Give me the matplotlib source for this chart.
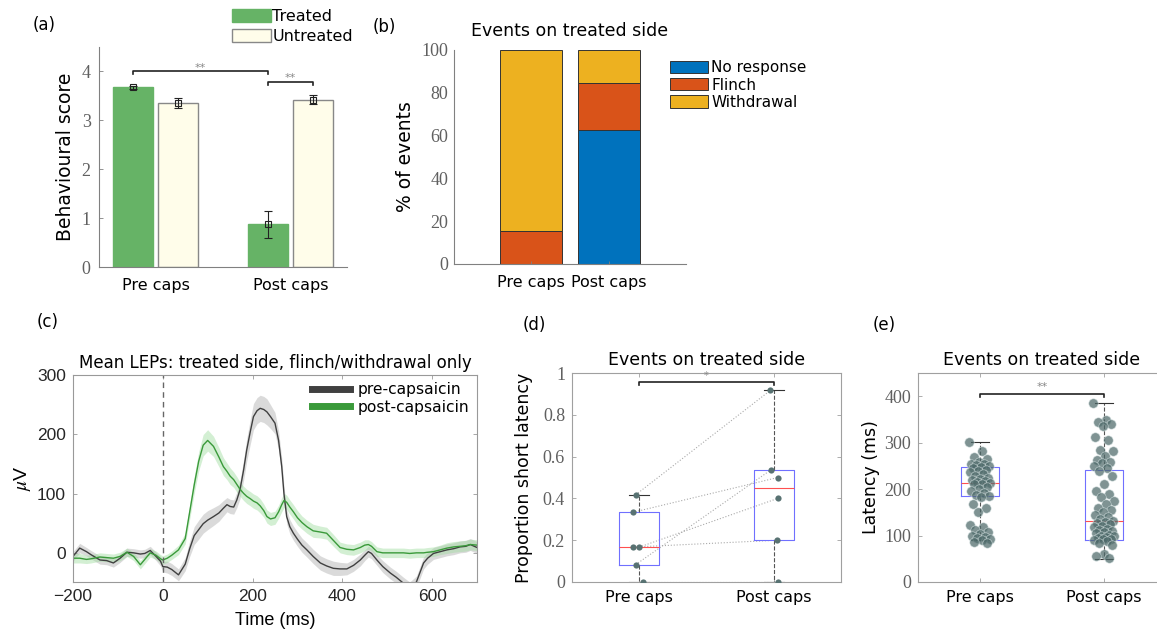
"""
Behavioural scores, response types and LEPs before/after capsaicin.
"""

import numpy as np
import matplotlib.pyplot as plt

plt.rcParams['font.family'] = ['DejaVu Sans']
plt.rcParams['mathtext.fontset'] = 'stix'

W, H = 1157, 639
SERIF = 'Liberation Serif'

# ---- (a) behavioural score ----
groups = ['Pre caps', 'Post caps']
treated_mean = [3.68, 0.87]
treated_err = [0.03, 0.27]
untreated_mean = [3.36, 3.42]
untreated_err = [0.10, 0.09]

# ---- (b) response types, % of events ----
resp_labels = ['No response', 'Flinch', 'Withdrawal']
no_response = [0.0, 62.8]
flinch = [15.4, 21.6]
withdrawal = [84.6, 15.6]

# ---- (c) mean LEPs ----
t_ms = [-200, -185, -170, -160, -140, -125, -110, -95, -80, -65,
        -50, -40, -28, -15, -5, 0, 10, 20, 35, 50,
        60, 70, 80, 90, 100, 113, 125, 135, 143, 150,
        158, 165, 172, 180, 187, 195, 202, 210, 217, 225,
        232, 240, 250, 258, 265, 270, 276, 283, 291, 300,
        310, 321, 335, 351, 365, 380, 395, 410, 425, 440,
        450, 458, 465, 477, 490, 507, 520, 536, 550, 565,
        581, 590, 603, 618, 633, 648, 662, 675, 685, 700]
pre_lep = [-5, 9, 3, -2, -11, -12, -16, -8, 2, 1,
           -1, 0, 5, -5, -13, -22, -23, -27, -36, -18,
           8, 30, 40, 50, 56, 62, 68, 76, 82, 79,
           78, 90, 107, 140, 174, 205, 230, 240, 244, 242,
           238, 230, 219, 190, 146, 100, 62, 45, 34, 24,
           14, 6, -5, -16, -21, -25, -26, -26, -20, -11,
           -3, 3, 0, -11, -22, -33, -40, -50, -58, -48,
           -16, -8, 0, 3, 6, 8, 11, 12, 15, 10]
pre_sem = [8, 8, 7, 7, 7, 7, 7, 7, 7, 7,
           7, 7, 7, 7, 8, 9, 10, 10, 10, 11,
           13, 15, 16, 16, 16, 15, 14, 13, 12, 12,
           12, 13, 15, 17, 19, 21, 22, 22, 22, 22,
           22, 20, 18, 16, 14, 13, 12, 12, 12, 12,
           12, 12, 12, 12, 12, 12, 11, 10, 10, 10,
           9, 9, 9, 9, 10, 10, 10, 10, 10, 10,
           10, 10, 10, 10, 10, 10, 10, 10, 10, 10]
post_lep = [-8, -8, -10, -9, -6, -7, -8, -5, 2, -5,
            -19, -10, 1, -3, -9, -11, -8, -3, 6, 25,
            70, 115, 155, 182, 190, 180, 162, 146, 138, 130,
            124, 116, 108, 101, 96, 92, 88, 85, 80, 72,
            62, 58, 60, 70, 82, 89, 86, 78, 70, 60,
            52, 45, 38, 36, 34, 22, 10, 7, 6, 10,
            14, 15, 12, 3, 1, 1, 1, 1, 0, 1,
            1, 2, 3, 6, 9, 11, 12, 13, 15, 14]
post_sem = [8, 8, 7, 7, 7, 7, 7, 7, 7, 7,
            7, 7, 7, 7, 7, 7, 7, 7, 8, 9,
            12, 14, 16, 18, 18, 17, 16, 15, 14, 14,
            13, 13, 12, 12, 12, 12, 12, 12, 12, 11,
            11, 11, 11, 11, 12, 12, 12, 12, 12, 12,
            11, 11, 11, 10, 10, 10, 9, 9, 9, 9,
            9, 8, 8, 8, 8, 8, 8, 8, 8, 8,
            8, 8, 8, 8, 9, 9, 9, 9, 9, 9]

# ---- (d) proportion short latency (paired subjects) ----
prop_pre = [0.417, 0.333, 0.167, 0.167, 0.083, 0.0]
prop_post = [0.917, 0.5, 0.4, 0.2, 0.537, 0.0]

# ---- (e) latency of single events ----
lat_pre = [302, 282, 270, 265, 258, 255, 254, 252, 250, 248,
           245, 242, 240, 236, 232, 228, 225, 222, 220, 218,
           215, 213, 212, 210, 205, 200, 196, 192, 188, 185,
           184, 168, 160, 150, 122, 118, 112, 108, 104, 100,
           97, 95, 92, 90, 86, 83]
lat_post = [386, 348, 344, 340, 335, 312, 306, 285, 283, 272,
            262, 258, 256, 250, 245, 240, 228, 210, 196, 190,
            182, 175, 168, 160, 155, 150, 145, 140, 136, 132,
            130, 128, 125, 120, 118, 115, 112, 110, 108, 105,
            102, 100, 98, 96, 95, 93, 92, 90, 88, 85,
            80, 60, 55, 52]
# box stats as drawn (q1, median, q3, whisker low, whisker high)
lat_box_pre = [185, 213, 248, 91, 302]
lat_box_post = [91, 131, 242, 50, 386]


def axes_px(fig, left, top, right, bottom):
    return fig.add_axes([left / W, 1 - bottom / H, (right - left) / W, (bottom - top) / H])


def style_matlab(ax, color='#999999', box=True):
    for side in ['left', 'bottom', 'top', 'right']:
        ax.spines[side].set_color(color)
        ax.spines[side].set_linewidth(0.8)
    if not box:
        ax.spines['top'].set_visible(False)
        ax.spines['right'].set_visible(False)
    ax.tick_params(direction='in', length=3, width=0.6, color=color,
                   top=box, right=box)


def serif_yticks(ax, size=12):
    for lab in ax.get_yticklabels():
        lab.set_fontfamily(SERIF)
        lab.set_fontsize(size)
        lab.set_color('#606060')


def sig_bar(ax, x0, x1, y, drop, text, dy, size=8):
    ax.plot([x0, x0, x1, x1], [y - drop, y, y, y - drop], color='#222222', lw=1.2)
    ax.text((x0 + x1) / 2, y + dy, text, ha='center', va='center',
            fontsize=size, color='#888888')


def box_stats(vals):
    q1, med, q3, lo, hi = vals
    return dict(q1=q1, med=med, q3=q3, whislo=lo, whishi=hi, fliers=[])


def draw_boxes(ax, stats):
    ax.bxp(stats, positions=[1, 2], widths=0.3, capwidths=0.15, showfliers=False,
           boxprops=dict(color='#7070ff', lw=0.8),
           medianprops=dict(color='#ff5050', lw=0.8),
           whiskerprops=dict(color='#555555', lw=0.8, linestyle='--'),
           capprops=dict(color='#333333', lw=0.8))


fig = plt.figure(figsize=(W / 100, H / 100), dpi=100)

# ================= (a) =================
ax = axes_px(fig, 99, 47, 347, 267)
x = np.arange(1, len(groups) + 1)
off = 0.167
ax.bar(x - off, treated_mean, width=0.3, color='#66b366', edgecolor='#66b366',
       label='Treated')
ax.bar(x + off, untreated_mean, width=0.3, color='#fffdea', edgecolor='#888888',
       lw=1.0, label='Untreated')
ax.errorbar(x - off, treated_mean, yerr=treated_err, fmt='s', mfc='none', mec='#222222',
            ms=5, mew=0.8, ecolor='#222222', elinewidth=0.8, capsize=3)
ax.errorbar(x + off, untreated_mean, yerr=untreated_err, fmt='s', mfc='none',
            mec='#222222', ms=5, mew=0.8, ecolor='#222222', elinewidth=0.8, capsize=3)
sig_bar(ax, 1 - off, 2 - off, 4.0, 0.05, '**', 0.08)
sig_bar(ax, 2 - off, 2 + off, 3.78, 0.05, '**', 0.08)
ax.set_xlim(0.58, 2.42)
ax.set_ylim(0, 4.5)
ax.set_xticks(x)
ax.set_xticklabels(groups, fontsize=11.5)
ax.set_yticks([0, 1, 2, 3, 4])
style_matlab(ax, '#808080', box=False)
ax.tick_params(axis='x', length=0, pad=8)
ax.tick_params(axis='y', pad=6)
serif_yticks(ax, 13)
ax.set_ylabel('Behavioural score', fontsize=13.5)
ax.yaxis.set_label_coords(-0.097, 0.5)
fig.legend(*ax.get_legend_handles_labels(), loc='upper left',
           bbox_to_anchor=(226 / W, 1 - 3 / H), frameon=False, fontsize=11.5,
           handlelength=2.4, handleheight=0.85, handletextpad=0.1,
           labelspacing=0.3, borderaxespad=0)
fig.text(33 / W, 1 - 25 / H, '(a)', fontsize=12, va='center')

# ================= (b) =================
ax = axes_px(fig, 454, 50, 686, 264)
bottom2 = np.array(no_response) + np.array(flinch)
resp_colors = ['#0072bd', '#d95319', '#edb120']
ax.bar(x, no_response, width=0.8, color=resp_colors[0], edgecolor='#333333', lw=0.7,
       label=resp_labels[0])
ax.bar(x, flinch, width=0.8, bottom=no_response, color=resp_colors[1],
       edgecolor='#333333', lw=0.7, label=resp_labels[1])
ax.bar(x, withdrawal, width=0.8, bottom=bottom2, color=resp_colors[2],
       edgecolor='#333333', lw=0.7, label=resp_labels[2])
ax.set_xlim(0, 3)
ax.set_ylim(0, 100)
ax.set_xticks(x)
ax.set_xticklabels(groups, fontsize=11.5)
ax.set_yticks(range(0, 101, 20))
style_matlab(ax, '#808080', box=False)
ax.tick_params(axis='x', length=2, pad=8)
ax.tick_params(axis='y', length=0, pad=4)
serif_yticks(ax, 13)
ax.set_ylabel('% of events', fontsize=13.5)
ax.yaxis.set_label_coords(-0.168, 0.5)
ax.set_title('Events on treated side', fontsize=12.5, pad=10)
ax.legend(loc='upper left', bbox_to_anchor=(0.931, 0.952), frameon=False,
          fontsize=11, handlelength=2.5, handleheight=0.85, handletextpad=0.2,
          labelspacing=0.15, borderaxespad=0, borderpad=0)
fig.text(373 / W, 1 - 27 / H, '(b)', fontsize=12, va='center')

# ================= (c) =================
ax = axes_px(fig, 73, 375, 477, 582)
t = np.array(t_ms)
for mean, sem, line_c, band_c, band_a, lab in [
        (pre_lep, pre_sem, '#404040', '#bdbdbd', 0.55, 'pre-capsaicin'),
        (post_lep, post_sem, '#3a9a3a', '#9fdc9f', 0.45, 'post-capsaicin')]:
    m = np.array(mean, dtype=float)
    s = np.array(sem, dtype=float)
    ax.fill_between(t, m - s, m + s, color=band_c, alpha=band_a, lw=0)
    ax.plot(t, m, color=line_c, lw=1.0, label=lab)
ax.axvline(0, color='#666666', lw=1.0, ls=(0, (4, 3)))
ax.set_xlim(-200, 700)
ax.set_ylim(-48, 300)
ax.set_xticks([-200, 0, 200, 400, 600])
ax.set_yticks([0, 100, 200, 300])
style_matlab(ax, '#999999', box=True)
ax.tick_params(labelsize=12.5, labelcolor='#262626', pad=5)
for lab in ax.get_xticklabels() + ax.get_yticklabels():
    lab.set_fontfamily('Liberation Sans')
ax.set_xlabel('Time (ms)', fontsize=13, family='Liberation Sans', labelpad=6)
ax.set_ylabel(r'$\mu$V', fontsize=14, family='Liberation Sans')
ax.yaxis.set_label_coords(-0.099, 0.5)
ax.set_title('Mean LEPs: treated side, flinch/withdrawal only', fontsize=12, pad=5)
leg = ax.legend(loc='upper left', bbox_to_anchor=(0.592, 0.965), frameon=False,
                fontsize=11.2, handlelength=2.4, handletextpad=0.5, labelspacing=0.15,
                borderpad=0, borderaxespad=0)
for line in leg.get_lines():
    line.set_linewidth(5)
fig.text(37 / W, 1 - 322 / H, '(c)', fontsize=12, va='center')

# ================= (d) =================
ax = axes_px(fig, 572, 373, 841, 582)
draw_boxes(ax, [box_stats([np.percentile(v, q, method='hazen') for q in (25, 50, 75)]
                          + [min(v), max(v)]) for v in (prop_pre, prop_post)])
jit_pre = [-0.027, -0.05, 0.0, -0.05, -0.027, 0.03]
jit_post = [-0.025, 0.03, 0.03, 0.025, -0.02, 0.03]
for i in range(len(prop_pre)):
    ax.plot([1 + jit_pre[i], 2 + jit_post[i]], [prop_pre[i], prop_post[i]],
            ls=':', color='#aaaaaa', lw=0.8, zorder=1)
ax.scatter(1 + np.array(jit_pre), prop_pre, s=20, color='#587272', zorder=3, lw=0)
ax.scatter(2 + np.array(jit_post), prop_post, s=20, color='#587272', zorder=3, lw=0)
sig_bar(ax, 1, 2, 0.955, 0.012, '*', 0.03, size=7)
ax.set_xlim(0.5, 2.5)
ax.set_ylim(0, 1)
ax.set_xticks([1, 2])
ax.set_xticklabels(groups, fontsize=11.5)
ax.set_yticks([0, 0.2, 0.4, 0.6, 0.8, 1])
ax.set_yticklabels(['0', '0.2', '0.4', '0.6', '0.8', '1'])
style_matlab(ax, '#a0a0a0', box=True)
ax.tick_params(axis='x', pad=6)
ax.tick_params(axis='y', pad=5)
serif_yticks(ax, 13)
ax.set_ylabel('Proportion short latency', fontsize=12.5)
ax.yaxis.set_label_coords(-0.145, 0.5)
ax.set_title('Events on treated side', fontsize=12.5, pad=6)
fig.text(523 / W, 1 - 325 / H, '(d)', fontsize=12, va='center')

# ================= (e) =================
ax = axes_px(fig, 918, 373, 1166, 582)
draw_boxes(ax, [box_stats(lat_box_pre), box_stats(lat_box_post)])
for pos, vals in [(1, lat_pre), (2, lat_post)]:
    n = len(vals)
    jit = ((np.arange(n) * 0.618034) % 1 - 0.5) * 0.17
    ax.scatter(pos + jit, vals, s=46, color='#4e6a6a', alpha=0.72,
               edgecolors='#d8e4e4', linewidths=0.5, zorder=3)
sig_bar(ax, 1, 2, 404, 6, '**', 16)
ax.set_xlim(0.5, 2.5)
ax.set_ylim(0, 450)
ax.set_xticks([1, 2])
ax.set_xticklabels(groups, fontsize=11.5)
ax.set_yticks([0, 100, 200, 300, 400])
style_matlab(ax, '#a0a0a0', box=True)
ax.tick_params(axis='x', pad=6)
ax.tick_params(axis='y', pad=5)
serif_yticks(ax, 13)
ax.set_ylabel('Latency (ms)', fontsize=12.5)
ax.yaxis.set_label_coords(-0.153, 0.5)
ax.set_title('Events on treated side', fontsize=12.5, pad=6)
fig.text(873 / W, 1 - 325 / H, '(e)', fontsize=12, va='center')

fig.savefig('out.png', dpi=100)
plt.close(fig)
